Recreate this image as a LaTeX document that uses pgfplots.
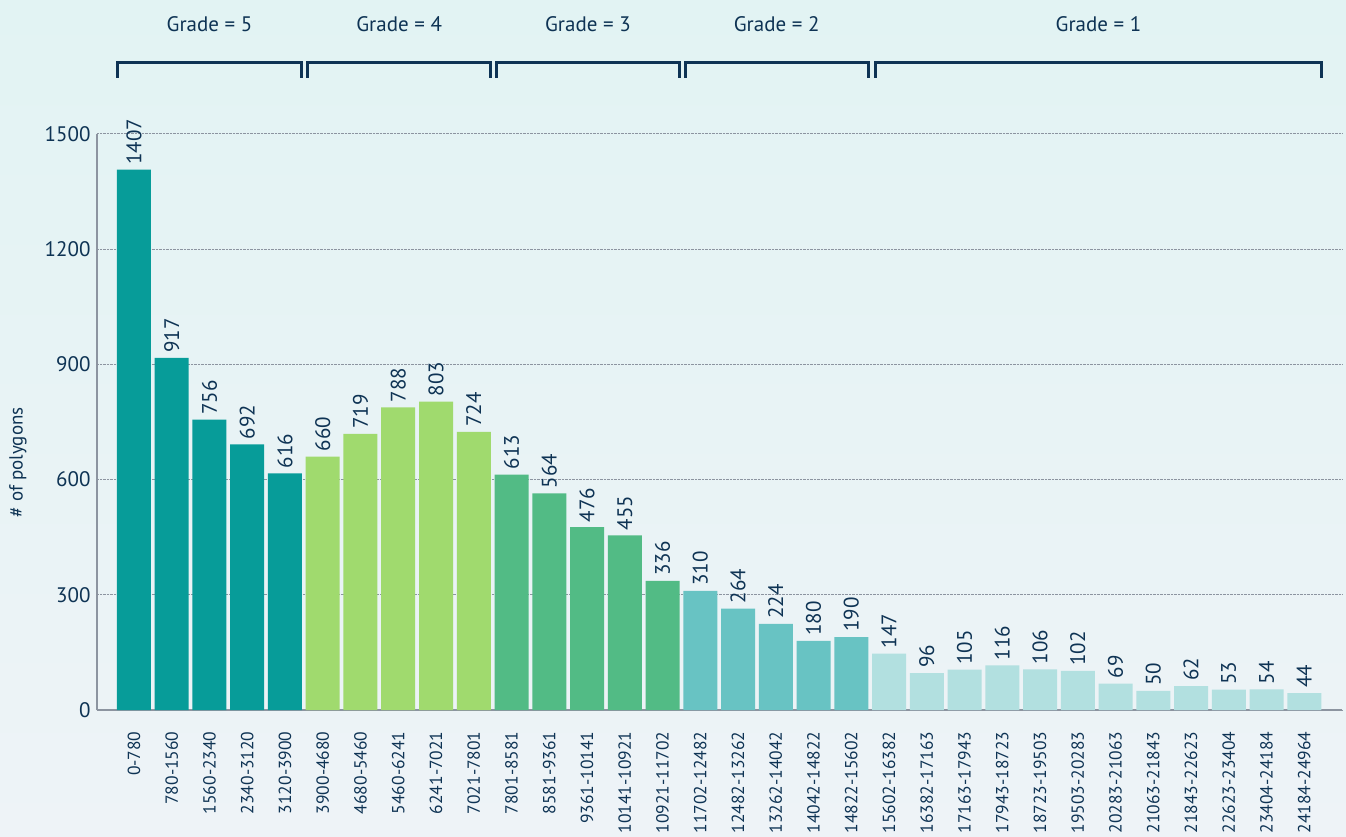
\documentclass[border=0pt]{standalone}
\usepackage{pgfplots}
\pgfplotsset{compat=1.18}
\usepackage{fontspec}
\setmainfont{PT Sans}
\usetikzlibrary{backgrounds}
\definecolor{navy}{HTML}{0E3354}
\definecolor{gfive}{HTML}{079C99}
\definecolor{gfour}{HTML}{A0DA6E}
\definecolor{gthree}{HTML}{52BB85}
\definecolor{gtwo}{HTML}{68C3C3}
\definecolor{gone}{HTML}{B2E0E0}
\definecolor{gridc}{HTML}{8C94A0}
\newcommand{\bracket}[3]{%
  \draw[navy, line width=3pt] (axis cs:#1,1646) -- (axis cs:#1,1687) -- (axis cs:#2,1687) -- (axis cs:#2,1646);
  \node[font=\fontsize{21}{23}\selectfont, color=navy] at (axis cs:{(#1+#2)/2},1786) {Grade = #3};
}
\begin{document}
\begin{tikzpicture}
\begin{axis}[
  scale only axis, width=1245pt, height=576pt,
  xmin=-0.98, xmax=32, ymin=0, ymax=1500,
  ybar, bar width=34pt, bar shift=0pt,
  clip=false,
  axis x line=bottom, axis y line=left,
  axis line style={-, draw=gridc, line width=1.2pt},
  major tick length=0pt,
  ytick={0,300,600,900,1200,1500},
  ymajorgrids, grid style={densely dotted, draw=gridc, line width=1pt},
  xtick={0,...,31},
  xticklabels={0-780,780-1560,1560-2340,2340-3120,3120-3900,3900-4680,4680-5460,5460-6241,6241-7021,7021-7801,7801-8581,8581-9361,9361-10141,10141-10921,10921-11702,11702-12482,12482-13262,13262-14042,14042-14822,14822-15602,15602-16382,16382-17163,17163-17943,17943-18723,18723-19503,19503-20283,20283-21063,21063-21843,21843-22623,22623-23404,23404-24184,24184-24964},
  xticklabel style={rotate=90, anchor=east, font=\fontsize{17.5}{19}\selectfont, color=navy, xshift=-18pt},
  yticklabel style={font=\fontsize{21}{23}\selectfont, color=navy, xshift=-3pt},
  /pgf/number format/assume math mode=true,
  /pgf/number format/1000 sep={},
  nodes near coords,
  every node near coord/.append style={rotate=90, anchor=west, font=\fontsize{21}{23}\selectfont, color=navy, inner sep=5pt},
]
\addplot[fill=gfive, draw=none] coordinates {(0,1407) (1,917) (2,756) (3,692) (4,616)};
\addplot[fill=gfour, draw=none] coordinates {(5,660) (6,719) (7,788) (8,803) (9,724)};
\addplot[fill=gthree, draw=none] coordinates {(10,613) (11,564) (12,476) (13,455) (14,336)};
\addplot[fill=gtwo, draw=none] coordinates {(15,310) (16,264) (17,224) (18,180) (19,190)};
\addplot[fill=gone, draw=none] coordinates {(20,147) (21,96) (22,105) (23,116) (24,106) (25,102) (26,69) (27,50) (28,62) (29,53) (30,54) (31,44)};
\coordinate (SW) at (rel axis cs:0,0);
\coordinate (NE) at (rel axis cs:1,1);
\bracket{-0.45}{4.45}{5}
\bracket{4.6}{9.45}{4}
\bracket{9.6}{14.45}{3}
\bracket{14.6}{19.45}{2}
\bracket{19.65}{31.45}{1}
\node[rotate=90, font=\fontsize{19}{21}\selectfont, color=navy] at ([xshift=-79pt]axis description cs:0,0.43) {\# of polygons};
\end{axis}
\begin{scope}[on background layer]
\shade[top color={rgb,255:red,226;green,243;blue,243}, bottom color={rgb,255:red,238;green,243;blue,247}] ([shift={(-97pt,-127pt)}]SW) rectangle ([shift={(4pt,134pt)}]NE);
\end{scope}
\pgfresetboundingbox
\path[use as bounding box] ([shift={(-97pt,-127pt)}]SW) rectangle ([shift={(4pt,134pt)}]NE);
\end{tikzpicture}
\end{document}
